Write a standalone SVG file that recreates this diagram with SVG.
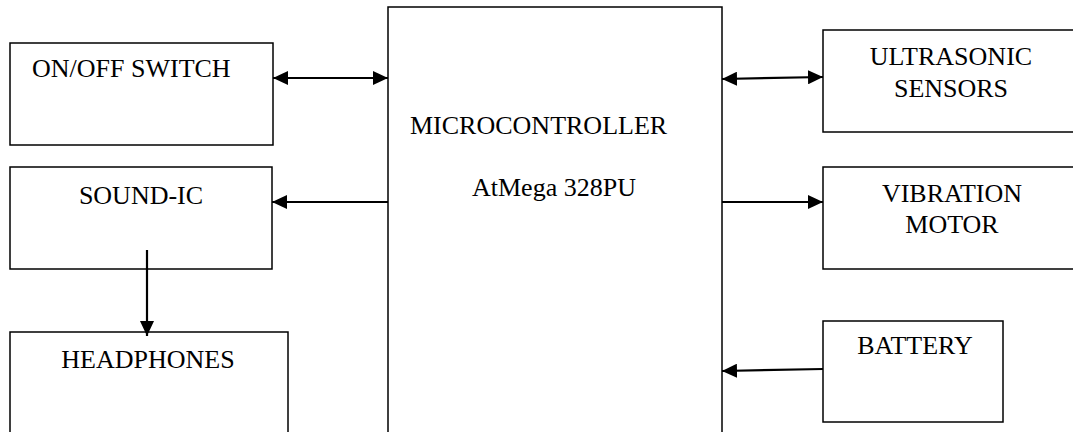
<svg xmlns="http://www.w3.org/2000/svg" width="1073" height="432" viewBox="0 0 1073 432">
<style>
.box{fill:#fff;stroke:#000;stroke-width:1.5}
.lbl{font-family:"Liberation Serif","Times New Roman",serif;font-size:26px;fill:#000}
.mid{text-anchor:middle}
.con{stroke:#000;stroke-width:2.2;fill:none}
</style>
<defs>
<marker id="ah" markerUnits="userSpaceOnUse" markerWidth="16" markerHeight="14" refX="15" refY="7" orient="auto-start-reverse" viewBox="0 0 16 14">
<path d="M0,0 L15,7 L0,14 Z" fill="#000"/>
</marker>
</defs>
<rect width="1073" height="432" fill="#fff"/>
<g id="mcu">
<rect class="box" x="388" y="7" width="334" height="440"/>
<text class="lbl" x="410" y="134">MICROCONTROLLER</text>
<text class="lbl" x="472" y="196">AtMega 328PU</text>
</g>
<g id="onoff">
<rect class="box" x="10" y="43" width="263" height="102"/>
<text class="lbl" x="32" y="77">ON/OFF SWITCH</text>
</g>
<g id="soundic">
<rect class="box" x="10" y="167" width="262" height="102"/>
<text class="lbl mid" x="141" y="204">SOUND-IC</text>
</g>
<g id="headphones">
<rect class="box" x="10" y="332" width="278" height="120"/>
<text class="lbl mid" x="148" y="368">HEADPHONES</text>
</g>
<g id="ultrasonic">
<rect class="box" x="823" y="30" width="260" height="102"/>
<text class="lbl mid" x="951" y="65">ULTRASONIC</text>
<text class="lbl mid" x="951" y="97">SENSORS</text>
</g>
<g id="vibration">
<rect class="box" x="823" y="167" width="260" height="102"/>
<text class="lbl mid" x="952" y="202">VIBRATION</text>
<text class="lbl mid" x="952" y="233">MOTOR</text>
</g>
<g id="battery">
<rect class="box" x="823" y="321" width="180" height="101"/>
<text class="lbl mid" x="915" y="354">BATTERY</text>
</g>
<g id="connectors">
<line class="con" x1="273" y1="78" x2="388" y2="78" marker-start="url(#ah)" marker-end="url(#ah)"/>
<line class="con" x1="388" y1="202" x2="272" y2="202" marker-end="url(#ah)"/>
<line class="con" x1="147" y1="250" x2="147" y2="336" marker-end="url(#ah)"/>
<line class="con" x1="722" y1="79" x2="823" y2="77" marker-start="url(#ah)" marker-end="url(#ah)"/>
<line class="con" x1="722" y1="202" x2="823" y2="202" marker-end="url(#ah)"/>
<line class="con" x1="823" y1="369" x2="722" y2="371" marker-end="url(#ah)"/>
</g>
</svg>
